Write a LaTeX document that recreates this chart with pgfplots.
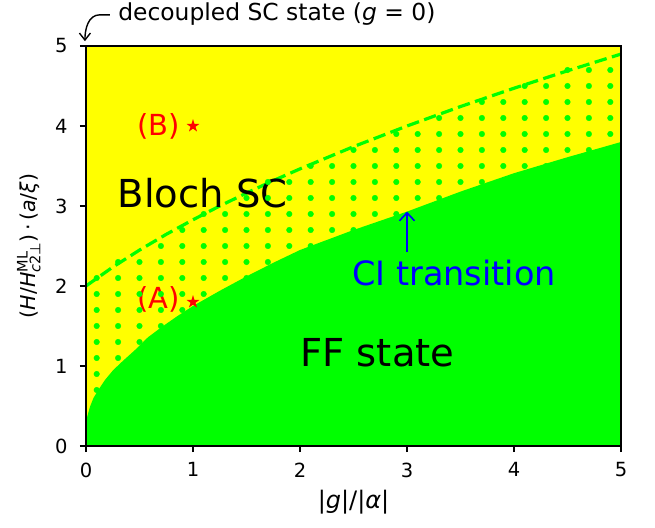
\documentclass[border=0pt]{standalone}
\usepackage{fontspec}
\setmainfont{DejaVu Sans}
\usepackage{pgfplots}
\pgfplotsset{compat=1.18}
\usetikzlibrary{arrows.meta}
\definecolor{mygreen}{RGB}{0,255,0}
\definecolor{myyellow}{RGB}{255,255,0}
\definecolor{myred}{RGB}{255,0,0}
\definecolor{myblue}{RGB}{0,0,255}
\pgfdeclareplotmark{fstar}{%
  \pgfpathmoveto{\pgfpointpolar{90}{\pgfplotmarksize}}%
  \pgfpathlineto{\pgfpointpolar{126}{0.382\pgfplotmarksize}}%
  \pgfpathlineto{\pgfpointpolar{162}{\pgfplotmarksize}}%
  \pgfpathlineto{\pgfpointpolar{198}{0.382\pgfplotmarksize}}%
  \pgfpathlineto{\pgfpointpolar{234}{\pgfplotmarksize}}%
  \pgfpathlineto{\pgfpointpolar{270}{0.382\pgfplotmarksize}}%
  \pgfpathlineto{\pgfpointpolar{306}{\pgfplotmarksize}}%
  \pgfpathlineto{\pgfpointpolar{342}{0.382\pgfplotmarksize}}%
  \pgfpathlineto{\pgfpointpolar{18}{\pgfplotmarksize}}%
  \pgfpathlineto{\pgfpointpolar{54}{0.382\pgfplotmarksize}}%
  \pgfpathclose
  \pgfusepathqfill}
\newcommand{\fs}[1]{\fontsize{#1}{#1}\selectfont}
\begin{document}
\begin{tikzpicture}
\begin{axis}[
  width=535pt, height=400pt, scale only axis,
  xmin=0, xmax=5, ymin=0, ymax=5,
  xtick={0,1,2,3,4,5}, ytick={0,1,2,3,4,5},
  tick align=outside, xtick pos=left, ytick pos=left,
  major tick length=6pt,
  every tick/.style={black, line width=1.2pt},
  axis line style={line width=1.2pt},
  axis background/.style={fill=myyellow},
  axis on top, clip=false,
  ticklabel style={font=\fs{19.5}},
  xticklabel style={yshift=-7pt},
  yticklabel style={xshift=-9pt},
  /pgf/number format/assume math mode=true,
  xlabel={|\textit{g}|/|\textit{α}|},
  ylabel={(\textit{H}/\textit{H}$^{\hbox{\fs{14.5}ML}}_{\hbox{\fs{14.5}\textit{c}2⊥}}$)\,·\,(\textit{a}/\textit{ξ})},
  xlabel style={font=\fs{24}, at={(axis description cs:0.5,-0.14)}, anchor=center},
  ylabel style={font=\fs{20.5}, at={(axis description cs:-0.107,0.5)}, anchor=center},
]
% hatch dots
\addplot[only marks, mygreen, mark=*, mark size=2.8pt, mark options={fill=mygreen, draw=mygreen}] coordinates {
(0.1,0.7)(0.1,0.9)(0.1,1.1)(0.1,1.3)(0.1,1.5)(0.1,1.7)(0.1,1.9)(0.1,2.1)
(0.3,1.1)(0.3,1.3)(0.3,1.5)(0.3,1.7)(0.3,1.9)(0.3,2.1)(0.3,2.3)
(0.5,1.3)(0.5,1.5)(0.5,1.7)(0.5,1.9)(0.5,2.1)(0.5,2.3)
(0.7,1.5)(0.7,1.7)(0.7,1.9)(0.7,2.1)(0.7,2.3)(0.7,2.5)
(0.9,1.7)(0.9,1.9)(0.9,2.1)(0.9,2.3)(0.9,2.5)(0.9,2.7)
(1.1,1.9)(1.1,2.1)(1.1,2.3)(1.1,2.5)(1.1,2.7)(1.1,2.9)
(1.3,2.1)(1.3,2.3)(1.3,2.5)(1.3,2.7)(1.3,2.9)
(1.5,2.1)(1.5,2.3)(1.5,2.5)(1.5,2.7)(1.5,2.9)(1.5,3.1)
(1.7,2.3)(1.7,2.5)(1.7,2.7)(1.7,2.9)(1.7,3.1)(1.7,3.3)
(1.9,2.5)(1.9,2.7)(1.9,2.9)(1.9,3.1)(1.9,3.3)
(2.1,2.5)(2.1,2.7)(2.1,2.9)(2.1,3.1)(2.1,3.3)(2.1,3.5)
(2.3,2.7)(2.3,2.9)(2.3,3.1)(2.3,3.3)(2.3,3.5)
(2.5,2.7)(2.5,2.9)(2.5,3.1)(2.5,3.3)(2.5,3.5)(2.5,3.7)
(2.7,2.9)(2.7,3.1)(2.7,3.3)(2.7,3.5)(2.7,3.7)
(2.9,2.9)(2.9,3.1)(2.9,3.3)(2.9,3.5)(2.9,3.7)(2.9,3.9)
(3.1,3.1)(3.1,3.3)(3.1,3.5)(3.1,3.7)(3.1,3.9)
(3.3,3.1)(3.3,3.3)(3.3,3.5)(3.3,3.7)(3.3,3.9)(3.3,4.1)
(3.5,3.3)(3.5,3.5)(3.5,3.7)(3.5,3.9)(3.5,4.1)
(3.7,3.3)(3.7,3.5)(3.7,3.7)(3.7,3.9)(3.7,4.1)(3.7,4.3)
(3.9,3.5)(3.9,3.7)(3.9,3.9)(3.9,4.1)(3.9,4.3)
(4.1,3.5)(4.1,3.7)(4.1,3.9)(4.1,4.1)(4.1,4.3)(4.1,4.5)
(4.3,3.5)(4.3,3.7)(4.3,3.9)(4.3,4.1)(4.3,4.3)(4.3,4.5)
(4.5,3.7)(4.5,3.9)(4.5,4.1)(4.5,4.3)(4.5,4.5)(4.5,4.7)
(4.7,3.7)(4.7,3.9)(4.7,4.1)(4.7,4.3)(4.7,4.5)(4.7,4.7)
(4.9,3.9)(4.9,4.1)(4.9,4.3)(4.9,4.5)(4.9,4.7)
};
% FF state region (below CI transition line)
\addplot[draw=none, fill=mygreen] coordinates {
(0,0)(0.002,0.25)(0.01,0.36)(0.037,0.49)(0.07,0.60)(0.115,0.70)(0.18,0.83)
(0.255,0.95)(0.35,1.07)(0.458,1.20)(0.58,1.36)(0.7,1.48)(0.85,1.62)(1.0,1.75)
(1.25,1.94)(1.5,2.12)(1.75,2.29)(2.0,2.45)(2.5,2.70)(3.0,2.93)(3.5,3.18)
(4.0,3.41)(4.5,3.61)(5.0,3.80)} \closedcycle;
% region above dashed line (no dots)
\addplot[draw=none, fill=myyellow] coordinates {
(0,2.000)(0.25,2.236)(0.5,2.449)(0.75,2.646)(1,2.828)(1.25,3.000)(1.5,3.162)
(1.75,3.317)(2,3.464)(2.5,3.742)(3,4.000)(3.5,4.243)(4,4.472)(4.5,4.690)
(5,4.899)(5,5)(0,5)} -- cycle;
% dashed boundary
\addplot[mygreen, line width=3.2pt, dash pattern=on 12.5pt off 5.5pt] coordinates {
(0,2.000)(0.25,2.236)(0.5,2.449)(0.75,2.646)(1,2.828)(1.25,3.000)(1.5,3.162)
(1.75,3.317)(2,3.464)(2.5,3.742)(3,4.000)(3.5,4.243)(4,4.472)(4.5,4.690)
(5,4.899)};
% points A and B
\addplot[only marks, mark=fstar, mark size=6.8pt, myred] coordinates {(1,1.8)(1,4)};
\node[myred, font=\fs{29}, anchor=east, inner sep=0pt] at (axis cs:0.88,1.83) {(A)};
\node[myred, font=\fs{29}, anchor=east, inner sep=0pt] at (axis cs:0.88,4.0) {(B)};
\node[black, font=\fs{38.5}] at (axis cs:1.089,3.16) {Bloch SC};
\node[black, font=\fs{38.5}] at (axis cs:2.724,1.16) {FF state};
\node[myblue, font=\fs{33.5}] at (axis cs:3.44,2.16) {CI transition};
\draw[myblue, line width=1.6pt, -{Straight Barb[length=8pt,width=15pt]}] (axis cs:3,2.42) -- (axis cs:3,2.93);
\node[black, font=\fs{23.4}, anchor=base west, inner sep=0pt] at (axis cs:0.3,5.32) {decoupled SC state (\textit{g} = 0)};
\draw[black, line width=1.4pt, -{Straight Barb[length=7pt,width=11pt]}] (axis cs:0.224,5.39) -- (axis cs:0.13,5.39) to[out=180,in=90] (axis cs:-0.01,5.06);
\end{axis}
\useasboundingbox ([shift={(-86pt,-81pt)}]current axis.south west) rectangle ([shift={(34pt,46pt)}]current axis.north east);
\end{tikzpicture}
\end{document}
